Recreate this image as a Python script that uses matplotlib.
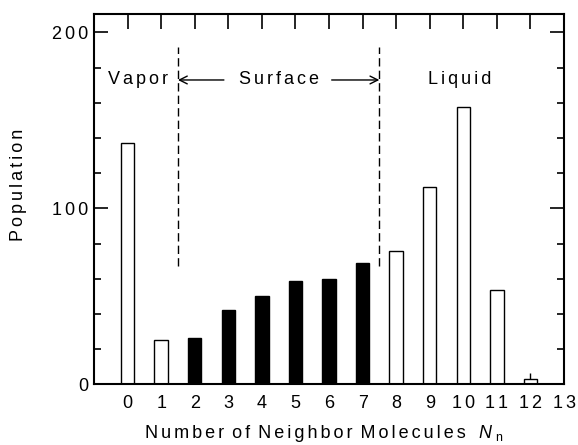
import numpy as np
import matplotlib
matplotlib.use("Agg")
import matplotlib.pyplot as plt
from matplotlib.ticker import MultipleLocator

plt.rcParams['font.family'] = ['Liberation Sans', 'DejaVu Sans']

# neighbour count and population
n_neighbors = [0, 1, 2, 3, 4, 5, 6, 7, 8, 9, 10, 11, 12]
population = [137, 25, 26.5, 42, 50, 59, 60, 69, 75.5, 112, 157.5, 53.5, 3.2]
pop_err = [0, 0, 0, 0, 0, 0, 0, 0, 0, 0, 0, 0, 3]
surface_range = [1.5, 7.5]
region_names = ["Vapor", "Surface", "Liquid"]
region_x = [0.31, 4.5, 9.9]
x_ticks = list(range(0, 14))
y_ticks = [0, 100, 200]

FS = 13
W, H = 578, 445


def spaced(s):
    # the original text is drawn with wide letter spacing
    return " \u2006".join("\u2006".join(w) for w in s.split(" "))


fig = plt.figure(figsize=(W / 100, H / 100), dpi=100)
ax = fig.add_axes([0.1626, 0.1364, 0.8132, 0.8321])

colors = ["black" if surface_range[0] < n < surface_range[1] else "white" for n in n_neighbors]
ax.bar(n_neighbors, population, width=0.4, color=colors, edgecolor="black", linewidth=1.0, zorder=2)
# small error bar on the last one
ax.errorbar(n_neighbors[-1], population[-1], yerr=[[0], [pop_err[-1]]], fmt="none",
            ecolor="black", elinewidth=1.0, capsize=0, zorder=3)

# region boundaries
for xb in surface_range:
    ax.plot([xb, xb], [67, 191.5], color="black", linestyle=(0, (6, 3)), linewidth=1.0)

y_txt = 173
for name, xt in zip(region_names, region_x):
    ax.text(xt, y_txt, spaced(name), ha="center", va="center", fontsize=FS)
arrow = dict(arrowstyle="->", color="black", linewidth=1.0, shrinkA=0, shrinkB=0, mutation_scale=14)
ax.annotate("", xy=(surface_range[0], y_txt), xytext=(2.87, y_txt), arrowprops=arrow)
ax.annotate("", xy=(surface_range[1], y_txt), xytext=(6.08, y_txt), arrowprops=arrow)

ax.set_xlim(-1, 13)
ax.set_ylim(0, 210.5)
ax.set_xticks(x_ticks)
ax.set_xticklabels([spaced(str(t)) for t in x_ticks])
ax.set_yticks(y_ticks)
ax.set_yticklabels([spaced(str(t)) for t in y_ticks])
ax.yaxis.set_minor_locator(MultipleLocator(20))
ax.tick_params(axis="y", which="major", direction="in", length=10, width=1.2,
               right=True, labelsize=FS, pad=4)
ax.tick_params(axis="y", which="minor", direction="in", length=5, width=1.2, right=True)
ax.tick_params(axis="x", which="major", direction="in", length=11, width=1.2,
               top=True, bottom=False, labelsize=FS, pad=8)
for s in ax.spines.values():
    s.set_linewidth(1.5)

fig.text(18.5 / W, 1 - 185 / H, spaced("Population"), rotation=90,
         ha="center", va="center", fontsize=FS)
fig.text(145 / W, 1 - 438 / H, spaced("Number of Neighbor Molecules"),
         ha="left", va="baseline", fontsize=FS)
fig.text(478 / W, 1 - 438 / H, "N", style="italic", ha="left", va="baseline", fontsize=FS)
fig.text(495 / W, 1 - 441 / H, "n", ha="left", va="baseline", fontsize=9)

fig.savefig("out.png", dpi=100)
